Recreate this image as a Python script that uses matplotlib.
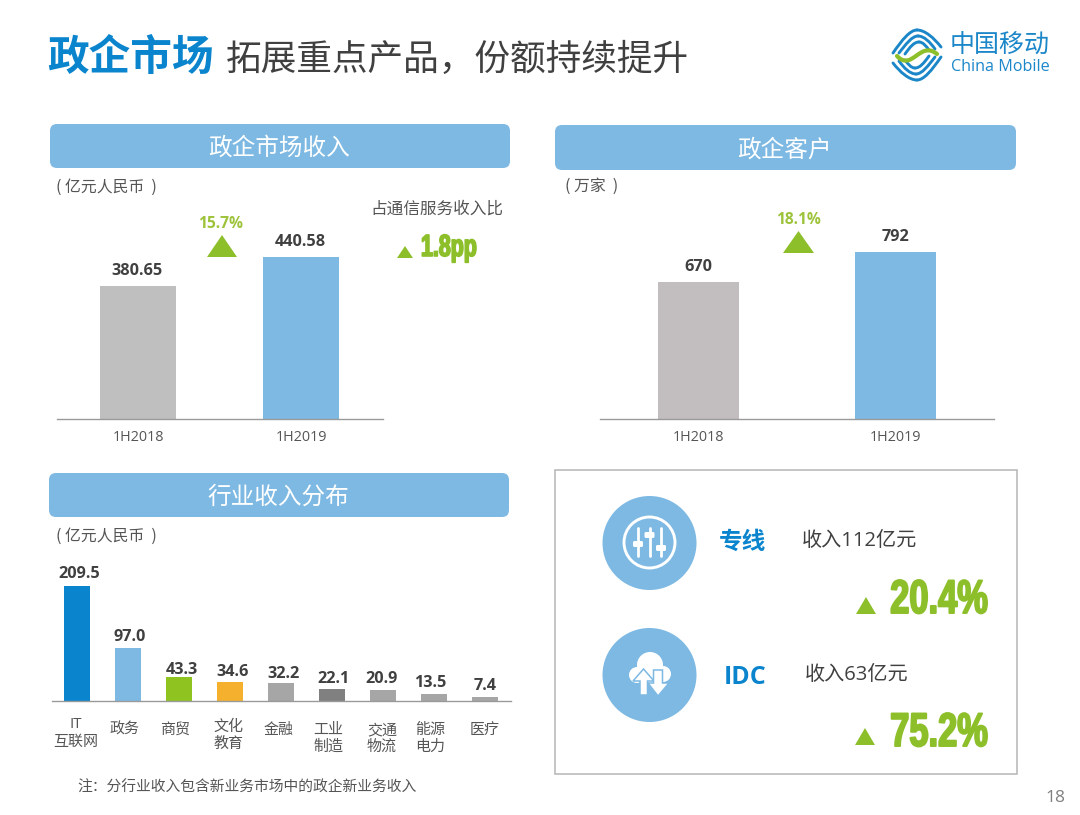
import matplotlib
matplotlib.use("Agg")
import matplotlib.pyplot as plt
import matplotlib.patheffects as pe
from matplotlib.patches import FancyBboxPatch, Polygon, Circle, PathPatch, Rectangle
from matplotlib.path import Path
from matplotlib.transforms import Affine2D

W, H = 1080, 815
CJK = ['Noto Sans CJK SC', 'DejaVu Sans']
LATIN = ['Open Sans', 'Noto Sans CJK SC', 'DejaVu Sans']
HEAVY = ['Liberation Sans', 'DejaVu Sans']
plt.rcParams['font.family'] = CJK

# ---- data
periods = ['1H2018', '1H2019']
revenue = [380.65, 440.58]
customers = [670, 792]
revenue_growth = '15.7%'
customer_growth = '18.1%'
industries = ['IT\n互联网', '政务', '商贸', '文化\n教育', '金融', '工业\n制造', '交通\n物流', '能源\n电力', '医疗']
industry_values = [209.5, 97.0, 43.3, 34.6, 32.2, 22.1, 20.9, 13.5, 7.4]
industry_labels = ['209.5', '97.0', '43.3', '34.6', '32.2', '22.1', '20.9', '13.5', '7.4']

# ---- styles
BLUE = '#7DB9E3'
DEEP = '#0A84CD'
GREEN = '#8DBF2A'
LGREEN = '#9DC33A'
DARK = '#404040'
TXT = '#555555'
AXC = '#9A9A9A'
industry_colors = ['#0A84CD', '#7DB9E3', '#8FC31F', '#F5B12E', '#A6A6A6', '#808080', '#A6A6A6', '#A6A6A6', '#A6A6A6']
industry_label_px = [76, 125, 175, 228, 279, 328, 382, 430, 485]
industry_label_py = [733.5, 730.5, 730.5, 736, 730.5, 739, 739, 739, 730.5]
value_dx = [2, 2, 3, 3, 2.5, 2, -1.5, -3.5, 0]
value_dy = [12, 11, 7.5, 10, 9, 10, 10.5, 10.5, 11]

fig = plt.figure(figsize=(W / 100, H / 100), dpi=100, facecolor='white')
ov = fig.add_axes([0, 0, 1, 1], zorder=0)
ov.set_xlim(0, W); ov.set_ylim(H, 0); ov.axis('off')


class Squeeze(pe.AbstractPathEffect):
    """Draw text condensed horizontally about a pixel column, slightly emboldened."""

    def __init__(self, anchor, sx, lw):
        super().__init__()
        self.anchor, self.sx, self.lw = anchor, sx, lw

    def draw_path(self, renderer, gc, tpath, affine, rgbFace=None):
        a = affine + Affine2D().translate(-self.anchor, 0).scale(self.sx, 1).translate(self.anchor, 0)
        g = renderer.new_gc()
        g.copy_properties(gc)
        g.set_linewidth(self.lw)
        g.set_foreground(rgbFace)
        renderer.draw_path(g, tpath, a, rgbFace)
        g.restore()


def t(x, y, s, size, color=DARK, ha='center', weight='normal', family=CJK, **kw):
    if family is CJK:
        y = y + size * 0.1
    return ov.text(x, y, s, fontsize=size, color=color, ha=ha, va='center',
                   fontweight=weight, family=family, **kw)


def tri(x0, x1, ytop, ybot, color=GREEN):
    ov.add_patch(Polygon([(x0, ybot), (x1, ybot), ((x0 + x1) / 2, ytop)], closed=True, fc=color, ec='none'))


def header(x0, y0, x1, y1, s):
    ov.add_patch(FancyBboxPatch((x0 + 6, y0 + 6), x1 - x0 - 12, y1 - y0 - 12,
                                boxstyle='round,pad=6,rounding_size=7', fc=BLUE, ec='none'))
    t((x0 + x1) / 2 - 1, (y0 + y1) / 2 + 0.5, s, 17, color='white')


def chart(px, xlim, ylim):
    x0, y0, x1, y1 = px
    ax = fig.add_axes([x0 / W, 1 - y1 / H, (x1 - x0) / W, (y1 - y0) / H], zorder=2)
    ax.patch.set_alpha(0)
    ax.set_xlim(*xlim); ax.set_ylim(*ylim)
    for s in ['top', 'left', 'right']:
        ax.spines[s].set_visible(False)
    ax.spines['bottom'].set_color(AXC)
    ax.spines['bottom'].set_linewidth(1)
    ax.set_yticks([])
    ax.tick_params(axis='x', length=0, pad=8, labelsize=10.4, labelcolor=TXT)
    return ax


# ---- title
t(47, 55, '政企市场', 30, color=DEEP, ha='left', weight='bold')
t(226, 57, '拓展重点产品，份额持续提升', 25.7, color=DARK, ha='left')


# ---- logo
def stroke(pts, color, lw):
    codes = [Path.MOVETO] + [Path.CURVE4] * (len(pts) - 1)
    ov.add_patch(PathPatch(Path(pts, codes), fc='none', ec=color, lw=lw, capstyle='round'))


LB = '#1B87C9'
upper = [
    [(893, 53), (902, 40), (910, 30), (917, 30)],
    [(917, 30), (925, 30), (934, 38), (941, 47)],
    [(899, 53), (906, 44), (912, 36), (918, 36)],
    [(918, 36), (924, 36), (930, 42), (935, 49)],
    [(905, 54), (910, 47), (914, 42), (919, 42)],
    [(919, 42), (923, 42), (926, 46), (929, 50)],
]
for seg in upper:
    stroke(seg, LB, 2.1)
    stroke([(2 * 917 - x, 2 * 55 - y) for x, y in seg], LB, 2.1)
stroke([(897, 56), (912, 72), (920, 40), (937, 54)], GREEN, 3)

t(1000, 43, '中国移动', 18, color=LB)
t(1000, 67, 'China Mobile', 11.6, color=LB, family=LATIN)

# ---- headers
header(50, 124, 510, 168, '政企市场收入')
header(555, 125, 1016, 170, '政企客户')
header(49, 473, 509, 517, '行业收入分布')

t(56, 186.5, '( 亿元人民币  )', 11.4, color=TXT, ha='left')
t(565, 185, '( 万家  )', 11.4, color=TXT, ha='left')
t(56, 535, '( 亿元人民币  )', 11.4, color=TXT, ha='left')
t(437, 208, '占通信服务收入比', 12, color=TXT)
t(77, 787, '注：分行业收入包含新业务市场中的政企新业务收入', 10.65, color=TXT, ha='left')

# ---- revenue chart
ax1 = chart((57, 200, 383, 419), (-0.497, 1.503), (105.8, 105.8 + 219 / 0.484))
ax1.bar([0, 1], revenue, width=0.466, color=['#BFBFBF', BLUE])
ax1.set_xticks([0, 1], periods, family=LATIN)
for i, v in enumerate(revenue):
    ax1.annotate(f'{v:.2f}', (i, v), xytext=(-1, 15), textcoords='offset pixels', ha='center', va='center',
                 fontsize=11.7, fontweight='bold', color=DARK, family=LATIN)
t(221, 223.5, revenue_growth, 11.2, color=LGREEN, weight='bold', family=LATIN)
tri(207, 237, 235, 257)
tri(397, 413, 246, 258)
t(477, 248, '1.8pp', 22, color=GREEN, ha='right', weight='bold', family=HEAVY,
  path_effects=[Squeeze(477, 0.70, 1.2)])

# ---- customer chart
ax2 = chart((600, 200, 994, 419), (-0.5, 1.5), (113, 113 + 219 / 0.246))
ax2.bar([0, 1], customers, width=0.411, color=['#C2BEC0', BLUE])
ax2.set_xticks([0, 1], periods, family=LATIN)
for i, v in enumerate(customers):
    ax2.annotate(str(v), (i, v), xytext=(0, 15), textcoords='offset pixels', ha='center', va='center',
                 fontsize=11.7, fontweight='bold', color=DARK, family=LATIN)
t(798, 219.5, customer_growth, 11.2, color=LGREEN, weight='bold', family=LATIN)
tri(783, 814, 231, 253)

# ---- industry chart
ax3 = chart((52, 560, 511, 701), (-0.49, 8.51), (0, 141 / 0.549))
ax3.bar(range(len(industry_values)), industry_values, width=0.5, color=industry_colors)
ax3.set_xticks([])
for i, (v, s) in enumerate(zip(industry_values, industry_labels)):
    ax3.annotate(s, (i, v), xytext=(value_dx[i], value_dy[i]), textcoords='offset pixels', ha='center', va='center',
                 fontsize=11.7, fontweight='bold', color=DARK, family=LATIN)
for x, y, s in zip(industry_label_px, industry_label_py, industries):
    ov.text(x, y, s, fontsize=10.8, color=TXT, ha='center', va='center', linespacing=1.2, family=LATIN)

# ---- box
ov.add_patch(Rectangle((555, 470), 462, 304, fc='white', ec='#BBBBBB', lw=1.2))
for cy in (543, 675):
    ov.add_patch(Circle((649.5, cy), 47, fc=BLUE, ec='none'))

# sliders icon
ov.add_patch(Circle((649.5, 542.5), 25.5, fc='none', ec='white', lw=2.1))
for x, ky in ((638, 544), (649.5, 535), (661, 548)):
    ov.plot([x, x], [528, 556], color='white', lw=2.0, solid_capstyle='round')
    ov.add_patch(FancyBboxPatch((x - 3.5, ky - 1.5), 7, 3, boxstyle='round,pad=1.5', fc='white', ec='none', zorder=3))

# cloud icon
for cx, cy, r in ((650, 665, 13), (637, 675, 8), (663, 674, 8), (650, 675, 9)):
    ov.add_patch(Circle((cx, cy), r, fc='white', ec='none'))
ov.add_patch(Polygon([(643.5, 669), (654, 681), (647.5, 681), (647.5, 695), (640, 695), (640, 681), (633, 681)],
                     fc='white', ec=BLUE, lw=1.1, zorder=3))
ov.add_patch(Polygon([(658, 696), (669, 683), (662.5, 683), (662.5, 670), (653.5, 670), (653.5, 683), (648, 683)],
                     fc='white', ec=BLUE, lw=1.1, zorder=3))

t(742, 540, '专线', 17, color=DEEP, weight='bold')
t(745.5, 678, 'IDC', 18, color=DEEP, weight='bold', family=LATIN)
t(859, 540.5, '收入112亿元', 14.5, color=DARK, family=LATIN)
t(857, 675.5, '收入63亿元', 14.5, color=DARK, family=LATIN)
tri(856, 876, 597, 614)
tri(855, 875, 728, 745)
for y, s in ((601, '20.4%'), (734, '75.2%')):
    t(988, y, s, 34, color=GREEN, ha='right', weight='bold', family=HEAVY,
      path_effects=[Squeeze(988, 0.73, 1.4)])

t(1055, 798, '18', 12.5, color='#808080', family=LATIN)

fig.savefig('out.png', dpi=100, facecolor='white')
